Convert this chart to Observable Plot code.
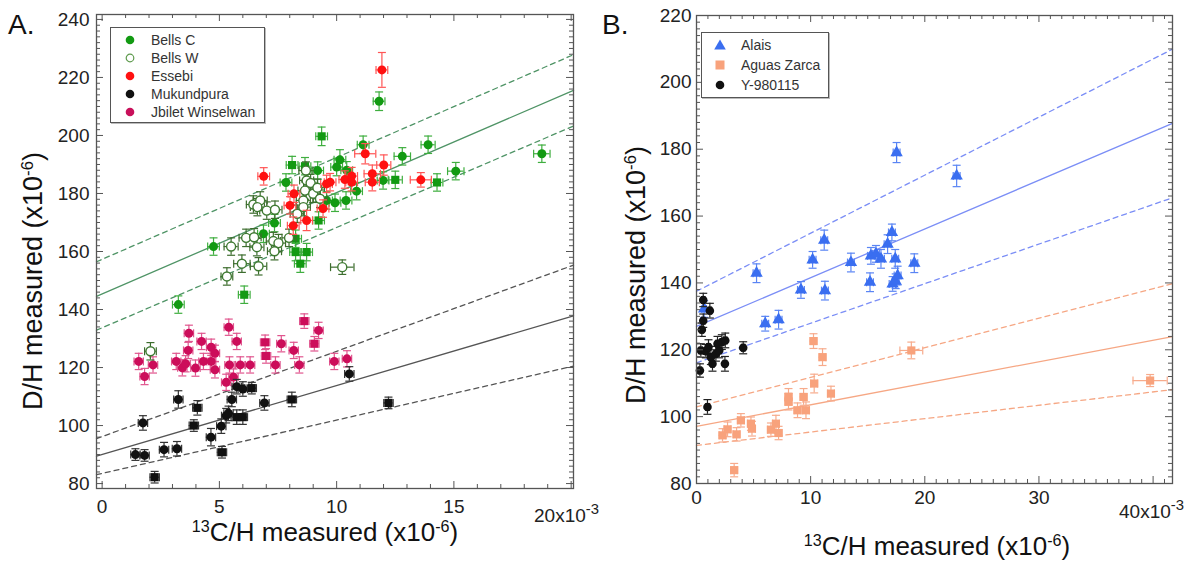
<!DOCTYPE html>
<html><head><meta charset="utf-8">
<script src="https://cdn.jsdelivr.net/npm/d3@7"></script>
<script src="https://cdn.jsdelivr.net/npm/@observablehq/plot@0.6"></script>
<style>
body{margin:0;background:#fff;font-family:"Liberation Sans",Arial,sans-serif;}
#wrap{position:relative;width:1192px;height:563px;overflow:hidden;background:#fff;}
#wrap svg{position:absolute;top:0;}
.abs{position:absolute;white-space:nowrap;color:#111;line-height:1;}
.ttl{font-size:26px;}
.ttl sup{font-size:0.62em;position:relative;top:-0.55em;vertical-align:baseline;line-height:0;}
.tk sup{font-size:0.78em;position:relative;top:-0.55em;vertical-align:baseline;line-height:0;}
.tk{font-size:19px;color:#222;}
.lg{position:absolute;border:1.5px solid #555;background:#fff;box-shadow:1px 1px 0 #bbb;}
.lg span{position:absolute;font-size:14px;color:#333;line-height:1;white-space:nowrap;}
.lg svg{position:absolute;}
</style></head>
<body><div id="wrap"></div>
<script>
// ---------- Panel A data: [x, y, xErr, yErr, shape] ----------
const bellsC = [
[9.36,199.7,.25,3.2,"s"],[11.81,211.8,.25,3.2,"c"],[13.9,196.8,.3,3,"c"],[12.8,192.8,.35,3,"c"],
[18.75,193.7,.35,3,"c"],[15.08,187.7,.35,3,"c"],[14.28,183.8,.25,3,"s"],[12.5,184.7,.3,3,"s"],
[11.98,184.5,.25,3,"c"],[11.13,196.8,.25,3,"c"],[10.14,191.6,.25,3.5,"c"],[10.0,189.1,.25,3,"c"],
[10.43,188.0,.25,3,"c"],[9.19,187.9,.25,3,"c"],[8.65,189.4,.25,3,"s"],[8.1,189.8,.25,3,"s"],
[7.84,183.8,.25,3,"c"],[10.4,177.6,.25,3,"c"],[10.85,180.8,.25,3,"c"],[9.93,176.8,.25,3,"c"],
[9.57,177.6,.25,3,"c"],[9.23,170.7,.25,3,"s"],[7.35,169.8,.25,3,"c"],[8.25,164.4,.25,3,"s"],
[8.25,159.8,.25,3,"s"],[8.72,159.8,.25,3,"s"],[8.45,155.8,.25,3,"s"],[4.75,161.7,.25,3,"c"],
[6.88,166.1,.25,3,"c"],[3.25,141.7,.25,3,"c"],[6.06,145.1,.25,3,"s"]
];
const bellsW = [
[8.69,187.9,.3,3],[8.72,184.5,.3,3],[8.89,183.6,.3,3],[8.65,181.0,.3,3],[9.0,179.9,.3,3],
[9.18,182.0,.3,3],[8.58,177.6,.3,3],[9.29,178.2,.3,3],[6.45,176.2,.3,3],[6.74,177.6,.3,3],
[6.62,175.3,.3,3],[7.02,174.1,.3,3],[7.37,174.4,.3,3],[8.32,173.0,.3,3],[8.58,175.3,.3,3],
[6.14,164.7,.3,3],[6.48,164.9,.3,3],[6.6,161.5,.3,3],[7.3,163.6,.3,3],[7.52,162.9,.3,3],
[7.97,164.7,.3,3],[7.35,160.1,.3,3],[5.5,161.7,.3,3],[5.96,155.8,.35,3],[6.67,154.9,.35,3],
[10.24,154.6,.5,2.5],[5.32,151.4,.25,3],[2.06,125.6,.25,3]
];
const essebi = [
[11.93,222.6,.25,6,"c"],[6.89,185.9,.25,3,"c"],[11.22,193.7,.45,3.5,"c"],[12.01,189.8,.3,3.5,"c"],
[11.52,186.8,.35,3,"c"],[11.52,183.9,.3,3,"c"],[13.59,184.7,.45,2.5,"c"],[10.35,184.8,.25,3,"c"],
[10.64,186.0,.25,3,"c"],[10.64,183.9,.25,3,"c"],[9.57,183.3,.25,3,"c"],[9.72,183.9,.25,3,"c"],
[8.18,179.9,.25,3,"c"],[8.01,175.9,.25,3,"c"],[9.42,174.8,.25,3,"c"],[8.72,170.7,.25,3.5,"c"],
[8.15,168.9,.25,3,"c"]
];
const mukundpura = [
[1.42,90.0,.2,2,"c"],[1.81,89.7,.2,2,"c"],[1.74,100.9,.2,2.5,"c"],[2.24,82.2,.2,2,"s"],
[2.64,91.7,.2,2.5,"c"],[3.19,92.0,.2,2.5,"c"],[3.25,109.0,.2,3,"c"],[3.91,100.0,.2,2,"s"],
[4.06,106.1,.2,2.5,"s"],[4.64,96.0,.2,3,"c"],[5.11,90.8,.2,2,"s"],[5.08,99.8,.2,2.5,"c"],
[5.29,103.4,.2,2.5,"c"],[5.39,104.2,.2,2.5,"c"],[5.53,109.0,.2,2.5,"c"],[5.74,102.9,.2,2.5,"s"],
[6.0,102.9,.2,2.5,"s"],[5.74,113.4,.2,2.5,"c"],[6.0,112.6,.2,2.5,"c"],[6.38,112.9,.2,2,"s"],
[6.92,107.8,.2,2.5,"c"],[8.09,109.0,.2,2.5,"s"],[10.54,117.8,.2,2.5,"c"],[12.21,107.8,.2,2,"s"]
];
const jbilet = [
[1.56,122.1,.2,2.8,"c"],[1.81,116.9,.2,2.8,"c"],[2.17,120.9,.2,2.8,"c"],[3.16,122.1,.2,2.8,"c"],
[3.42,119.9,.2,2.8,"c"],[3.56,121.3,.2,2.8,"c"],[3.7,131.8,.2,2.8,"c"],[3.67,125.9,.2,2.8,"c"],
[3.98,119.8,.2,2.8,"c"],[4.24,129.0,.2,2.8,"c"],[4.32,122.1,.2,2.8,"c"],[4.65,127.0,.2,2.8,"c"],
[4.81,124.9,.2,2.8,"c"],[4.81,119.2,.2,2.8,"c"],[4.65,122.1,.2,2.8,"c"],[5.4,133.9,.2,2.8,"c"],
[5.43,120.9,.2,2.8,"c"],[5.29,114.9,.2,2.8,"c"],[5.74,129.0,.2,2.8,"c"],[5.89,120.9,.2,2.8,"c"],
[5.6,116.7,.2,2.8,"c"],[6.31,120.9,.2,2.8,"c"],[6.95,128.7,.2,2.5,"s"],[6.99,124.0,.2,2.5,"s"],
[7.39,120.9,.2,2.8,"c"],[7.64,128.2,.2,2.8,"c"],[8.17,125.9,.2,2.8,"c"],[8.41,120.9,.2,2.8,"c"],
[8.62,136.0,.2,2.5,"s"],[9.05,128.2,.2,2.5,"s"],[9.23,132.8,.2,2.8,"c"],[9.9,122.1,.2,2.8,"c"],
[10.44,123.0,.2,2.8,"c"]
];
// fit lines A: [intercept, slope, dashed]
const fitsGreen = [[145.4,3.49,0],[157.3,3.51,1],[133.7,3.46,1]];
const fitsBlack = [[90.0,2.38,0],[96.2,2.94,1],[83.5,1.84,1]];

// ---------- Panel B data ----------
const alais = [
[17.53,179.0,.3,3],[22.79,172.0,.3,3.2],[5.26,142.9,.3,2.8],[11.19,152.8,.3,3],[10.17,146.9,.3,2.5],
[9.15,137.9,.3,2.5],[11.25,137.7,.3,2.8],[6.02,127.8,.3,2.2],[7.19,129.0,.3,2.8],[13.53,146.1,.3,2.8],
[15.2,140.2,.3,2.8],[15.28,148.1,.3,2.5],[15.72,148.7,.3,2.5],[16.16,147.2,.3,2.8],[16.74,151.6,.3,2.8],
[17.12,155.1,.3,2.5],[17.41,147.2,.3,2.8],[17.18,139.7,.3,2.2],[17.45,140.5,.3,2.2],[17.62,142.2,.3,2.8],
[19.08,145.9,.3,2.8],[0.67,132.2,.2,2.5]
];
const y980115 = [
[0.59,134.9,.15,2],[0.59,128.7,.15,2],[0.47,126.0,.15,2],[1.17,131.7,.15,2.2],[0.3,113.8,.15,2],
[0.96,102.9,.15,2.2],[0.38,119.8,.15,2],[0.82,119.6,.15,2],[1.05,120.8,.15,2.2],[1.26,117.8,.15,2.2],
[1.4,115.8,.15,2.2],[1.7,118.8,.15,2.2],[1.99,119.8,.15,2.2],[1.84,121.8,.15,2.2],[2.22,122.3,.15,2.2],
[2.52,122.8,.15,2.2],[2.49,115.8,.15,2.2],[4.09,120.6,.15,1.8]
];
const aguasZarca = [
[10.25,122.6,.3,2.2],[11.04,117.8,.3,2.5],[10.31,109.9,.3,2.8],[11.78,106.9,.3,2.2],[8.06,105.9,.3,2.5],
[8.06,104.5,.3,2.5],[9.38,105.9,.3,2.5],[8.85,101.9,.3,2.2],[9.59,101.9,.3,2.5],[2.28,94.4,.3,2],
[2.72,96.2,.3,2.2],[3.51,94.7,.3,2],[3.89,98.9,.3,2],[4.77,97.9,.3,2],[4.86,96.4,.3,2.2],
[6.52,96.1,.3,2],[6.96,97.9,.3,2.5],[7.19,95.1,.3,2],[3.3,84.0,.3,2],[18.82,119.8,1.0,2.5],
[39.74,110.8,1.5,1.8]
];
const fitsBlue = [[127.0,1.457,0],[137.5,1.737,1],[116.1,1.184,1]];
const fitsOrange = [[97.1,0.644,0],[102.9,0.885,1],[91.4,0.40,1]];

// ---------- helpers ----------
const FONT = '"Liberation Sans", Arial, Helvetica, sans-serif';
const hbar = {draw(ctx, size){const r=Math.sqrt(size/Math.PI); ctx.moveTo(-r,0); ctx.lineTo(r,0);}};
const vbar = {draw(ctx, size){const r=Math.sqrt(size/Math.PI); ctx.moveTo(0,-r); ctx.lineTo(0,r);}};
const toObj = a => a.map(d => ({x:d[0], y:d[1], ex:d[2], ey:d[3], s:d[4] || "c"}));

function errMarks(data, col, sw=1.2){
  return [
    Plot.ruleX(data, {x:"x", y1:d=>d.y-d.ey, y2:d=>d.y+d.ey, stroke:col, strokeWidth:sw}),
    Plot.ruleY(data, {y:"y", x1:d=>d.x-d.ex, x2:d=>d.x+d.ex, stroke:col, strokeWidth:sw}),
    Plot.dot(data, {x:"x", y:d=>d.y+d.ey, symbol:hbar, r:4, stroke:col, strokeWidth:sw, fill:"none"}),
    Plot.dot(data, {x:"x", y:d=>d.y-d.ey, symbol:hbar, r:4, stroke:col, strokeWidth:sw, fill:"none"}),
    Plot.dot(data, {x:d=>d.x+d.ex, y:"y", symbol:vbar, r:4, stroke:col, strokeWidth:sw, fill:"none"}),
    Plot.dot(data, {x:d=>d.x-d.ex, y:"y", symbol:vbar, r:4, stroke:col, strokeWidth:sw, fill:"none"})
  ];
}
function ptMarks(data, col, opts={}){
  const circ = data.filter(d=>d.s==="c"), sq = data.filter(d=>d.s==="s");
  const base = opts.open ? {fill:"white", stroke:col, strokeWidth:1.4} : {fill:col, stroke:"none"};
  return [
    Plot.dot(circ, {x:"x", y:"y", r: opts.r || 4.5, symbol: opts.symbol || "circle", ...base}),
    Plot.dot(sq, {x:"x", y:"y", r:4.6, symbol:"square", ...base})
  ];
}
function fitMarks(fits, xd, col){
  return fits.map(([b,m,dash]) => Plot.line(
    [{x:xd[0], y:b+m*xd[0]}, {x:xd[1], y:b+m*xd[1]}],
    {x:"x", y:"y", stroke:col, strokeWidth:1.3, strokeDasharray: dash ? "5,4" : null}));
}
function boxTicks(xd, yd, iw, ih, xMajor, xMinor, yMajor, yMinor, col){
  const ux=(xd[1]-xd[0])/iw, uy=(yd[1]-yd[0])/ih, LM=7, Lm=4;
  const xt=[...xMajor.map(v=>({v,L:LM})), ...xMinor.filter(v=>!xMajor.includes(v)).map(v=>({v,L:Lm}))];
  const yt=[...yMajor.map(v=>({v,L:LM})), ...yMinor.filter(v=>!yMajor.includes(v)).map(v=>({v,L:Lm}))];
  return [
    Plot.ruleX(xt, {x:"v", y1:yd[0], y2:d=>yd[0]+d.L*uy, stroke:col, strokeWidth:1}),
    Plot.ruleX(xt, {x:"v", y1:yd[1], y2:d=>yd[1]-d.L*uy, stroke:col, strokeWidth:1}),
    Plot.ruleY(yt, {y:"v", x1:xd[0], x2:d=>xd[0]+d.L*ux, stroke:col, strokeWidth:1}),
    Plot.ruleY(yt, {y:"v", x1:xd[1], x2:d=>xd[1]-d.L*ux, stroke:col, strokeWidth:1})
  ];
}
const wrap = document.getElementById("wrap");
function addHTML(html, cls, style){
  const d=document.createElement("div"); d.className="abs "+cls; d.innerHTML=html;
  Object.assign(d.style, style); wrap.appendChild(d); return d;
}

// ---------- Panel A ----------
{
  const W=590, H=563, ml=96, mr=17, mt=14, mb=75;
  const xd=[-0.24,20.1], yd=[78.3,241.7];
  const xMaj=[0,5,10,15,20], xMin=d3.range(0,21,1);
  const yMaj=d3.range(80,241,20), yMin=d3.range(80,241,2);
  const C=toObj(bellsC), Wd=toObj(bellsW), E=toObj(essebi), M=toObj(mukundpura), J=toObj(jbilet);
  const svg = Plot.plot({
    width:W, height:H, marginLeft:ml, marginRight:mr, marginTop:mt, marginBottom:mb,
    style:{fontFamily:FONT, fontSize:"19px", color:"#222", background:"transparent", overflow:"visible"},
    x:{domain:xd, ticks:xMaj, tickSize:0, tickPadding:11, tickFormat:d=>d===20?"":String(d), label:null},
    y:{domain:yd, ticks:yMaj, tickSize:0, tickPadding:7, label:null},
    marks:[
      ...fitMarks(fitsGreen, xd, "#4f9466"),
      ...fitMarks(fitsBlack, xd, "#555555"),
      ...errMarks(J, "#e0558e"), ...ptMarks(J, "#cc0d5a"),
      ...errMarks(M, "#333333"), ...ptMarks(M, "#111111"),
      ...errMarks(C, "#3fae3f"), ...ptMarks(C, "#129a12"),
      ...errMarks(Wd, "#3d6d2e"), ...ptMarks(Wd, "#3f7a32", {open:true}),
      ...errMarks(E, "#ff5555"), ...ptMarks(E, "#ff1111"),
      ...boxTicks(xd, yd, W-ml-mr, H-mt-mb, xMaj, xMin, yMaj, yMin, "#555"),
      Plot.frame({stroke:"#555", strokeWidth:1.3})
    ]
  });
  svg.style.left="0px"; wrap.appendChild(svg);
}
// ---------- Panel B ----------
{
  const W=592, H=563, ml=96, mr=20, mt=15, mb=80;
  const xd=[0,41.7], yd=[80,220];
  const xMaj=[0,10,20,30,40], xMin=d3.range(0,42,1);
  const yMaj=d3.range(80,221,20), yMin=d3.range(80,221,2);
  const A=toObj(alais), Y=toObj(y980115), Z=toObj(aguasZarca).map(d=>({...d,s:"s"}));
  const svg = Plot.plot({
    width:W, height:H, marginLeft:ml, marginRight:mr, marginTop:mt, marginBottom:mb,
    style:{fontFamily:FONT, fontSize:"19px", color:"#222", background:"transparent", overflow:"visible"},
    x:{domain:xd, ticks:xMaj, tickSize:0, tickPadding:7, tickFormat:d=>d===40?"":String(d), label:null},
    y:{domain:yd, ticks:yMaj, tickSize:0, tickPadding:5, label:null},
    marks:[
      ...fitMarks(fitsBlue, xd, "#7b8ef6"),
      ...fitMarks(fitsOrange, xd, "#f6a784"),
      ...errMarks(Z, "#f7ab8c"), ...ptMarks(Z, "#f8a27c"),
      ...errMarks(A, "#5a85f4"), ...ptMarks(A, "#3a6ef0", {symbol:"triangle", r:4.6}),
      ...errMarks(Y, "#222222"), ...ptMarks(Y, "#111111", {r:4.3}),
      ...boxTicks(xd, yd, W-ml-mr, H-mt-mb, xMaj, xMin, yMaj, yMin, "#555"),
      Plot.frame({stroke:"#555", strokeWidth:1.3})
    ]
  });
  svg.style.left="600px"; wrap.appendChild(svg);
}

// ---------- Text ----------
addHTML("A.", "", {left:"8px", top:"11px", fontSize:"28px"});
addHTML("B.", "", {left:"602px", top:"11px", fontSize:"28px"});
addHTML("D/H measured (x10<sup>-6</sup>)", "ttl", {left:"33px", top:"281px", fontSize:"27px", transform:"translate(-50%,-50%) rotate(-90deg)"});
addHTML("D/H measured (x10<sup>-6</sup>)", "ttl", {left:"636px", top:"275px", fontSize:"27px", transform:"translate(-50%,-50%) rotate(-90deg)"});
addHTML("<sup>13</sup>C/H measured (x10<sup>-6</sup>)", "ttl", {left:"325px", top:"519px", transform:"translateX(-50%)"});
addHTML("<sup>13</sup>C/H measured (x10<sup>-6</sup>)", "ttl", {left:"937px", top:"533px", transform:"translateX(-50%)"});
addHTML("20x10<sup>-3</sup>", "tk", {left:"534px", top:"506px"});
addHTML("40x10<sup>-3</sup>", "tk", {left:"1119px", top:"502px"});

// ---------- Legends ----------
function legend(left, top, w, h, rows, symX, txtX, rowY){
  const box=document.createElement("div"); box.className="lg";
  Object.assign(box.style,{left:left+"px", top:top+"px", width:w+"px", height:h+"px"});
  rows.forEach((r,i)=>{
    const s=document.createElementNS("http://www.w3.org/2000/svg","svg");
    s.setAttribute("width",14); s.setAttribute("height",14);
    s.style.left=(symX-7)+"px"; s.style.top=(rowY[i]-7)+"px";
    s.innerHTML=r.sym; box.appendChild(s);
    const t=document.createElement("span"); t.textContent=r.label;
    t.style.left=txtX+"px"; t.style.top=(rowY[i]-7)+"px"; box.appendChild(t);
  });
  wrap.appendChild(box);
}
const legA = ["Bells C","Bells W","Essebi","Mukundpura","Jbilet Winselwan"];
const legB = ["Alais","Aguas Zarca","Y-980115"];
legend(110, 27, 153, 94, [
  {label:legA[0], sym:'<circle cx="7" cy="7" r="4.3" fill="#129a12"/>'},
  {label:legA[1], sym:'<circle cx="7" cy="7" r="3.8" fill="white" stroke="#5d9a4c" stroke-width="1.2"/>'},
  {label:legA[2], sym:'<circle cx="7" cy="7" r="4.3" fill="#ff1111"/>'},
  {label:legA[3], sym:'<circle cx="7" cy="7" r="4.3" fill="#111"/>'},
  {label:legA[4], sym:'<circle cx="7" cy="7" r="4.3" fill="#c8105a"/>'}
], 19, 40, [12, 30, 47.5, 66, 83.5]);
legend(701, 32, 126, 64, [
  {label:legB[0], sym:'<path d="M7,1.5 L12.8,11.5 L1.2,11.5 Z" fill="#3a6ef0"/>'},
  {label:legB[1], sym:'<rect x="2.5" y="2.5" width="9" height="9" fill="#f8a27c"/>'},
  {label:legB[2], sym:'<circle cx="7" cy="7" r="4.3" fill="#111"/>'}
], 18, 39, [12, 32, 52]);
</script></body></html>
